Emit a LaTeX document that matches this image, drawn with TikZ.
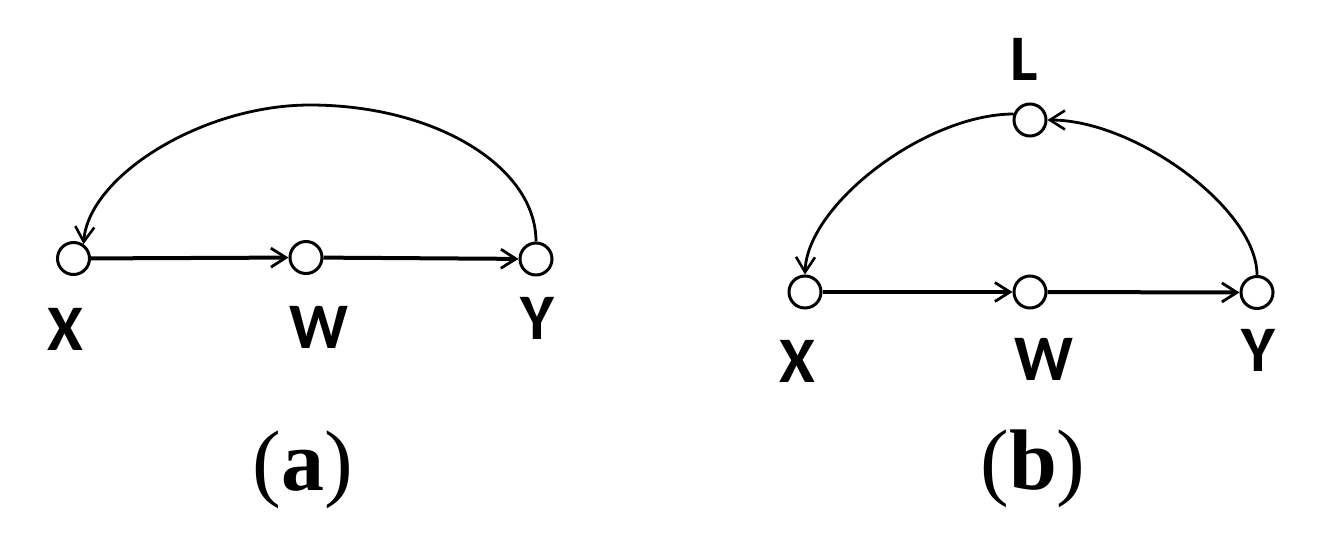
\documentclass[tikz,border=0pt]{standalone}
\usepackage{fontspec}
\setmainfont{Liberation Serif}
\newfontfamily\labfont{Carlito}
\usetikzlibrary{arrows.meta}
\begin{document}
\begin{tikzpicture}[x=1pt,y=-1pt,
  vtx/.style={circle,draw,line width=3pt,minimum size=32pt,inner sep=0pt},
  lab/.style={inner sep=0pt,font=\labfont\bfseries\fontsize{65}{65}\selectfont},
  captxt/.style={inner sep=0pt,font=\fontsize{86}{86}\selectfont},
  edge/.style={line width=4pt,-{Straight Barb[length=15pt,width=19pt,line width=2.8pt]}},
  arcline/.style={line width=2.8pt,-{Straight Barb[length=15pt,width=19pt,line width=2.6pt]}}
]
\useasboundingbox (0,0) rectangle (1319,544);
% (a)
\node[vtx] (Xa) at (73.5,258.5) {};
\node[vtx] (Wa) at (306,257.5) {};
\node[vtx] (Ya) at (536,259) {};
\coordinate (pkA) at (310,105);
\node[lab] (lXa) at (65,329) {X};
\node[lab] (lWa) at (319,327) {W};
\node[lab] (lYa) at (537,318) {Y};
\draw[edge] (Xa) -- (Wa);
\draw[edge] (Wa) -- (Ya);
\draw[arcline] (Ya.north) .. controls +(0,-75) and +(125,0) .. (pkA)
  .. controls +(-108,0) and +(5,-68) .. (Xa.55);
\node[captxt] (capA) at (303,470) {(\textbf{a})};
% (b)
\node[vtx] (Xb) at (805,292) {};
\node[vtx] (Wb) at (1030,292) {};
\node[vtx] (Yb) at (1257,292.5) {};
\node[vtx] (Lb) at (1030,120) {};
\node[lab] (lLb) at (1024,59) {L};
\node[lab] (lXb) at (797,361) {X};
\node[lab] (lWb) at (1044,359) {W};
\node[lab] (lYb) at (1258,350) {Y};
\draw[edge] (Xb) -- (Wb);
\draw[edge] (Wb) -- (Yb);
\draw[arcline] (Lb.160) .. controls +(-88,0) and +(2,-70) .. (Xb.north);
\draw[arcline] (Yb.north) .. controls +(0,-66) and +(88,0) .. (Lb.east);
\node[captxt] (capB) at (1033,469) {(\textbf{b})};
\end{tikzpicture}
\end{document}
